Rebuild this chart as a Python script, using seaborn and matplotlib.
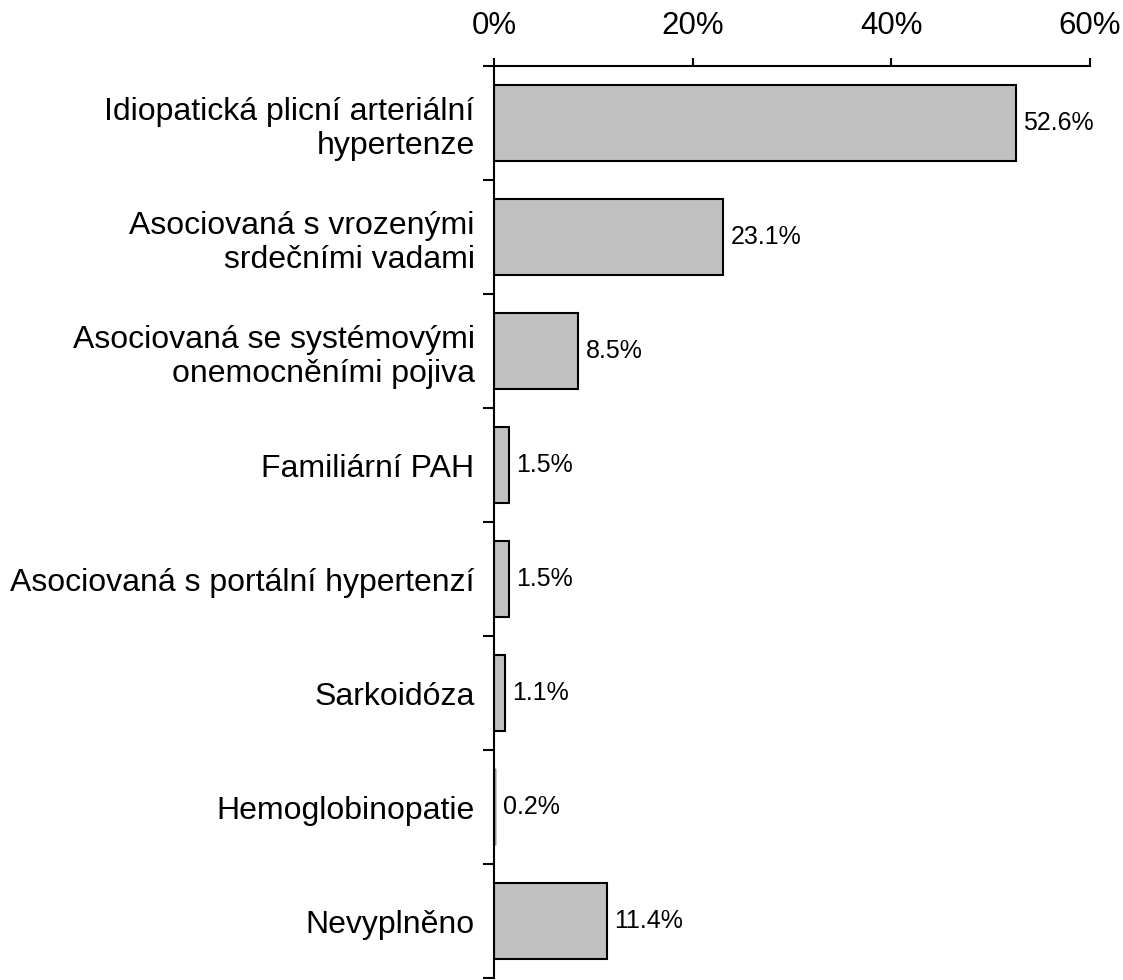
import numpy as np
import pandas as pd
import matplotlib
matplotlib.use('Agg')
import matplotlib.pyplot as plt
import seaborn as sns
from matplotlib.ticker import FixedLocator, PercentFormatter

# ── data ─────────────────────────────────────────────
categories = [
    "Idiopatická plicní arteriální\nhypertenze",
    "Asociovaná s vrozenými\nsrdečními vadami",
    "Asociovaná se systémovými\nonemocněními pojiva",
    "Familiární PAH",
    "Asociovaná s portální hypertenzí",
    "Sarkoidóza",
    "Hemoglobinopatie",
    "Nevyplněno",
]
shares = [52.6, 23.1, 8.5, 1.5, 1.5, 1.1, 0.2, 11.4]
x_ticks = [0, 20, 40, 60]

df = pd.DataFrame({"cat": categories, "pct": shares})

# ── plot ─────────────────────────────────────────────
sns.set_style("white")
plt.rcParams['font.family'] = ['Liberation Sans', 'DejaVu Sans']
plt.rcParams['text.color'] = 'black'
plt.rcParams['xtick.color'] = 'black'
plt.rcParams['ytick.color'] = 'black'

fig = plt.figure(figsize=(11.23, 9.8), dpi=100)
ax = fig.add_axes([0.4399, 0.002, 0.5307, 0.9306])

sns.barplot(data=df, y="cat", x="pct", orient="h", color="#c0c0c0",
            edgecolor="black", linewidth=1.5, width=0.66, saturation=1, ax=ax)

# very thin bars: keep the outline from turning into a thick black stroke
for patch in ax.containers[0]:
    if patch.get_width() < 0.5:
        patch.set_linewidth(0.3)

ax.bar_label(ax.containers[0], fmt="{:.1f}%", padding=5, fontsize=18,
             color='black')

ax.set_xlim(0, 60)
ax.set_ylim(len(categories) - 0.5, -0.5)
ax.set_xticks(x_ticks)
ax.xaxis.set_major_formatter(PercentFormatter(decimals=0))
ax.xaxis.tick_top()
ax.tick_params(axis='x', which='major', labelsize=22.5, length=6, width=1.5,
               pad=12, direction='out', top=True, bottom=False)

# category labels without ticks, ticks at category boundaries
ax.tick_params(axis='y', which='major', labelsize=23, length=0, pad=14)
ax.yaxis.set_minor_locator(FixedLocator(np.arange(-0.5, len(categories), 1)))
ax.tick_params(axis='y', which='minor', length=8, width=1.5, left=True,
               direction='out')

ax.set_xlabel("")
ax.set_ylabel("")
for side in ['right', 'bottom']:
    ax.spines[side].set_visible(False)
for side in ['left', 'top']:
    ax.spines[side].set_color('black')
    ax.spines[side].set_linewidth(1.5)

plt.savefig('out.png', dpi=100)
plt.close()
